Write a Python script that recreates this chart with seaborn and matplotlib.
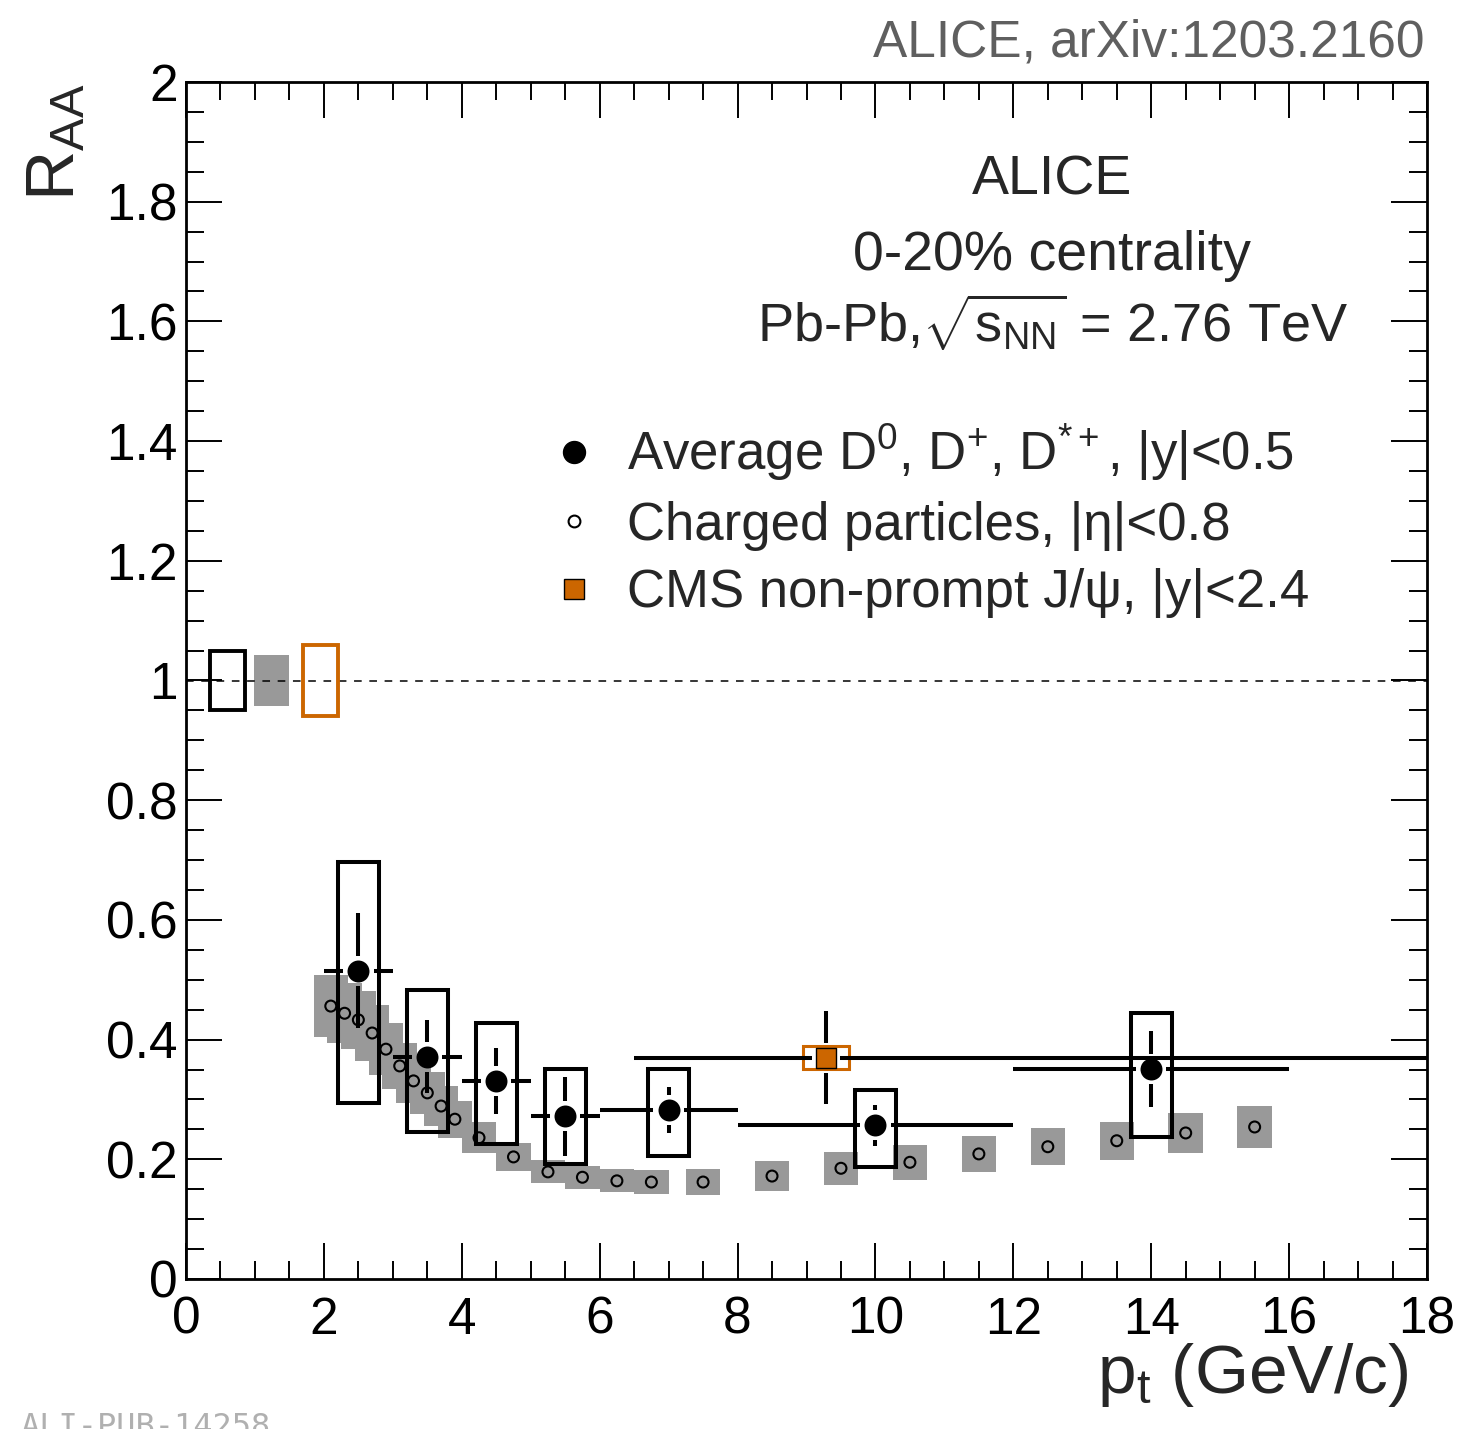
import numpy as np
import pandas as pd
import seaborn as sns
import matplotlib.pyplot as plt
from matplotlib.patches import Rectangle
from matplotlib.lines import Line2D
from matplotlib.ticker import MultipleLocator, FuncFormatter

# Average D mesons (ALICE)
d_pt = [2.5, 3.5, 4.5, 5.5, 7.0, 10.0, 14.0]
d_lo = [2.0, 3.0, 4.0, 5.0, 6.0, 8.0, 12.0]
d_hi = [3.0, 4.0, 5.0, 6.0, 8.0, 12.0, 16.0]
d_raa = [0.515, 0.371, 0.331, 0.272, 0.282, 0.257, 0.351]
d_stat = [0.096, 0.061, 0.055, 0.066, 0.038, 0.034, 0.064]
d_sys_up = [0.182, 0.112, 0.097, 0.079, 0.069, 0.059, 0.094]
d_sys_dn = [0.221, 0.125, 0.106, 0.080, 0.077, 0.070, 0.114]

# Charged particles
ch_pt = [2.1, 2.3, 2.5, 2.7, 2.9, 3.1, 3.3, 3.5, 3.7, 3.9, 4.25, 4.75, 5.25,
         5.75, 6.25, 6.75, 7.5, 8.5, 9.5, 10.5, 11.5, 12.5, 13.5, 14.5, 15.5]
ch_raa = [0.456, 0.444, 0.433, 0.411, 0.384, 0.356, 0.331, 0.311, 0.289, 0.267,
          0.236, 0.204, 0.179, 0.170, 0.164, 0.162, 0.162, 0.172, 0.185, 0.195,
          0.209, 0.221, 0.231, 0.244, 0.254]
ch_sys = [0.052, 0.050, 0.049, 0.046, 0.043, 0.039, 0.037, 0.035, 0.033, 0.031,
          0.026, 0.023, 0.019, 0.019, 0.019, 0.020, 0.022, 0.025, 0.028, 0.029,
          0.030, 0.031, 0.032, 0.033, 0.035]

# CMS non-prompt J/psi
cms_pt = [9.28]
cms_lo = [6.5]
cms_hi = [30.0]
cms_raa = [0.370]
cms_stat = [0.078]
cms_sys = [0.019]

# normalisation uncertainties around 1
norm_x = [0.6, 1.24, 1.95]
norm_unc = [0.050, 0.043, 0.060]
norm_style = ["black", "gray", "orange"]

ORANGE = "#cc6600"
GRAY = "#999999"

sns.set_theme(style="ticks")
plt.rcParams["font.family"] = ["Liberation Sans", "DejaVu Sans"]
plt.rcParams["mathtext.fontset"] = "custom"
plt.rcParams["mathtext.rm"] = "Liberation Sans"
plt.rcParams["mathtext.it"] = "Liberation Sans:italic"
plt.rcParams["mathtext.bf"] = "Liberation Sans:bold"

fig = plt.figure(figsize=(14.65, 14.29), dpi=100)
ax = fig.add_axes([186 / 1465, 150 / 1429, 1241 / 1465, 1197 / 1429])
ax.set_xlim(0, 18)
ax.set_ylim(0, 2)

# charged particle systematic boxes
for x, y, e in zip(ch_pt, ch_raa, ch_sys):
    ax.add_patch(Rectangle((x - 0.25, y - e), 0.5, 2 * e, facecolor=GRAY,
                           edgecolor="none", zorder=1))

# normalisation boxes
for x, e, st in zip(norm_x, norm_unc, norm_style):
    if st == "gray":
        ax.add_patch(Rectangle((x - 0.25, 1 - e), 0.5, 2 * e, facecolor=GRAY,
                               edgecolor="none", zorder=1))
    else:
        col = "black" if st == "black" else ORANGE
        ax.add_patch(Rectangle((x - 0.25, 1 - e), 0.5, 2 * e, facecolor="none",
                               edgecolor=col, lw=2.8, zorder=3))

ax.axhline(1.0, color="black", lw=1.1, ls=(0, (5, 5)), zorder=2)

# D systematic boxes
for x, y, up, dn in zip(d_pt, d_raa, d_sys_up, d_sys_dn):
    ax.add_patch(Rectangle((x - 0.3, y - dn), 0.6, up + dn, facecolor="none",
                           edgecolor="black", lw=2.9, zorder=3))

# CMS systematic box
for x, y, e in zip(cms_pt, cms_raa, cms_sys):
    ax.add_patch(Rectangle((x - 0.33, y - e), 0.66, 2 * e, facecolor="none",
                           edgecolor=ORANGE, lw=2.2, zorder=3))


def gap_bars(xs, ys, los, his, errs, gx, gy, lw):
    # ROOT-like error bars that stop short of the marker
    for x, y, lo, hi, e in zip(xs, ys, los, his, errs):
        hi = min(hi, 18)
        if x - gx > lo:
            ax.plot([lo, x - gx], [y, y], color="black", lw=lw, solid_capstyle="butt", zorder=4)
        if x + gx < hi:
            ax.plot([x + gx, hi], [y, y], color="black", lw=lw, solid_capstyle="butt", zorder=4)
        if e > gy:
            ax.plot([x, x], [y + gy, y + e], color="black", lw=lw, solid_capstyle="butt", zorder=4)
            ax.plot([x, x], [y - e, y - gy], color="black", lw=lw, solid_capstyle="butt", zorder=4)


gap_bars(d_pt, d_raa, d_lo, d_hi, d_stat, 0.22, 0.025, 2.9)
gap_bars(cms_pt, cms_raa, cms_lo, cms_hi, cms_stat, 0.2, 0.025, 2.9)

# markers
sns.scatterplot(x=ch_pt, y=ch_raa, marker="o", s=62, facecolor="none",
                edgecolor="black", linewidth=1.5, ax=ax, zorder=5)
sns.scatterplot(x=d_pt, y=d_raa, marker="o", s=250, color="black",
                edgecolor="black", linewidth=0, ax=ax, zorder=6)
sns.scatterplot(x=cms_pt, y=cms_raa, marker="s", s=200, color=ORANGE,
                edgecolor="black", linewidth=1.0, ax=ax, zorder=6)

# axes style
ax.xaxis.set_major_locator(MultipleLocator(2))
ax.xaxis.set_minor_locator(MultipleLocator(0.5))
ax.yaxis.set_major_locator(MultipleLocator(0.2))
ax.yaxis.set_minor_locator(MultipleLocator(0.05))
ax.yaxis.set_major_formatter(FuncFormatter(lambda v, p: f"{v:g}"))
ax.xaxis.set_major_formatter(FuncFormatter(lambda v, p: f"{v:g}"))
ax.tick_params(which="both", direction="in", top=True, right=True,
               width=1.4, color="black", labelcolor="black")
ax.tick_params(which="major", length=26, labelsize=37)
ax.tick_params(which="minor", length=13)
ax.tick_params(axis="x", pad=12)
ax.tick_params(axis="y", pad=6)
for sp in ax.spines.values():
    sp.set_linewidth(2.0)
    sp.set_color("black")
    sp.set_visible(True)
ax.grid(False)

ax.set_ylabel(r"R$_{\rm AA}$", fontsize=50, loc="top")
ax.yaxis.set_label_coords(-0.079, 0.999)
ax.set_xlabel(r"p$_{\rm t}$ (GeV/c)", fontsize=50, loc="right")
ax.xaxis.set_label_coords(0.985, -0.052)

# text
ax.text(0.998, 1.0217, "ALICE, arXiv:1203.2160", transform=ax.transAxes,
        ha="right", va="baseline", fontsize=37, color="#5f5f5f")
ax.text(0.698, 0.9056, "ALICE", transform=ax.transAxes, ha="center",
        va="baseline", fontsize=40)
ax.text(0.698, 0.843, "0-20% centrality", transform=ax.transAxes, ha="center",
        va="baseline", fontsize=40)
ax.text(0.698, 0.782, r"Pb-Pb,$\sqrt{\mathrm{s}_{\mathrm{NN}}}$ = 2.76 TeV",
        transform=ax.transAxes, ha="center", va="baseline", fontsize=39)

handles = [
    Line2D([], [], ls="none", marker="o", ms=15.8, color="black"),
    Line2D([], [], ls="none", marker="o", ms=8.5, mfc="none", mec="black", mew=1.5),
    Line2D([], [], ls="none", marker="s", ms=14, mfc=ORANGE, mec="black", mew=1.0),
]
labels = [r"Average D$^{0}$, D$^{+}$, D$^{*+}$, |y|<0.5",
          "Charged particles, |η|<0.8",
          "CMS non-prompt J/ψ, |y|<2.4"]
ax.legend(handles, labels, loc="upper left", bbox_to_anchor=(0.2917, 0.716),
          frameon=False, fontsize=38, handlelength=1.0, handletextpad=0.5,
          borderpad=0, borderaxespad=0, labelspacing=0.33)

fig.text(20 / 1465, 17 / 1429, "ALI-PUB-14258", va="top", ha="left",
         family="DejaVu Sans Mono", fontsize=23, color="#b0b0b0")

fig.savefig("out.png", dpi=100)
